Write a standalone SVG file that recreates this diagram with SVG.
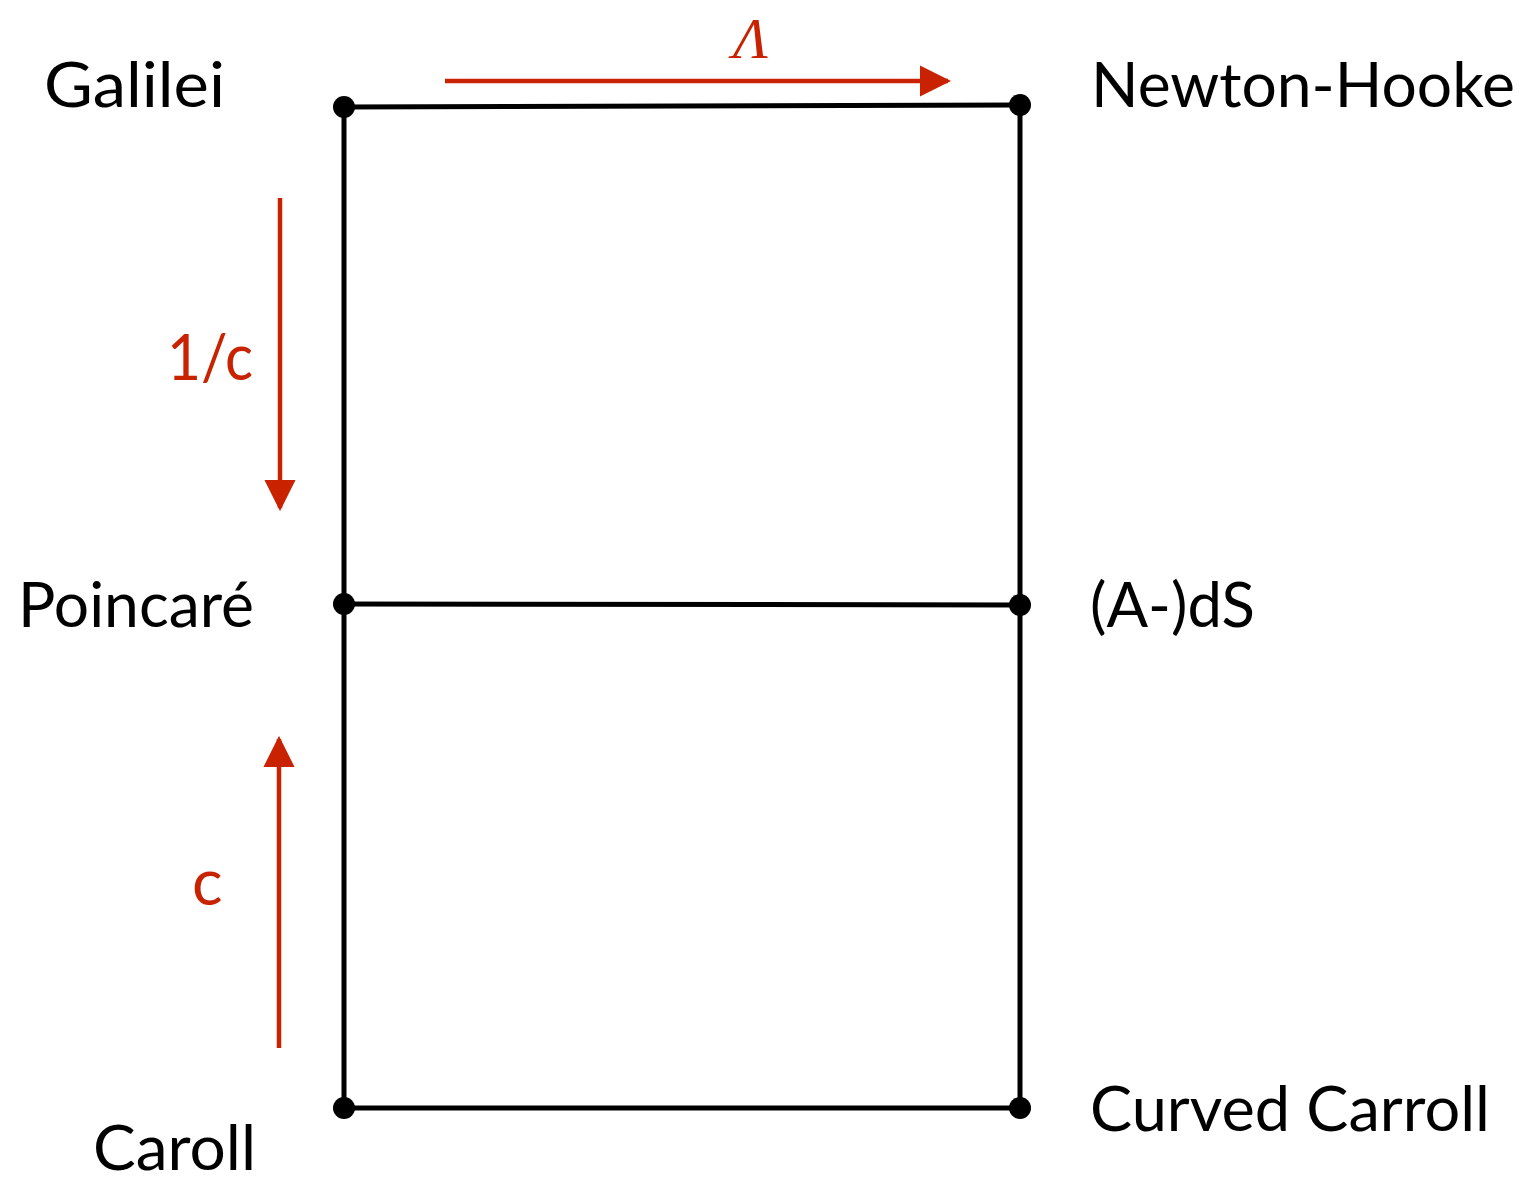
<svg xmlns="http://www.w3.org/2000/svg" width="1525" height="1182" viewBox="0 0 1525 1182">
<style>
.lbl{font-family:Lato,"Open Sans","Liberation Sans",sans-serif;font-size:62px;fill:#000}
.red{font-family:Lato,"Open Sans","Liberation Sans",sans-serif;font-size:64px;fill:#c82200}
.lam{font-family:"Liberation Serif",serif;font-style:italic;font-size:58px;fill:#c82200}
.edge{stroke:#000;stroke-width:5;fill:none}
.rarr{stroke:#c82200;stroke-width:4.5;fill:none}
.dot{fill:#000}
</style>
<defs>
<marker id="ah" viewBox="0 0 10 10" refX="9" refY="5" markerWidth="7" markerHeight="9" markerUnits="strokeWidth" orient="auto">
<path d="M0,0 L10,5 L0,10 Z" fill="#c82200"/>
</marker>
</defs>
<rect width="1525" height="1182" fill="#fff"/>
<g id="connectors">
<line class="edge" x1="344" y1="107" x2="1020" y2="105"/>
<line class="edge" x1="344" y1="604" x2="1020" y2="605"/>
<line class="edge" x1="344" y1="1108" x2="1020" y2="1108"/>
<line class="edge" x1="344" y1="107" x2="344" y2="1108"/>
<line class="edge" x1="1020" y1="105" x2="1020" y2="1108"/>
</g>
<g id="arrows">
<line class="rarr" x1="445" y1="81" x2="948" y2="81" marker-end="url(#ah)"/>
<line class="rarr" x1="280" y1="198" x2="280" y2="508" marker-end="url(#ah)"/>
<line class="rarr" x1="279" y1="1048" x2="279" y2="739" marker-end="url(#ah)"/>
<text class="lam" x="733" y="58">Λ</text>
<text class="red" x="167" y="380" textLength="86" lengthAdjust="spacingAndGlyphs">1/c</text>
<text class="red" x="192" y="905">c</text>
</g>
<g id="galilei"><circle class="dot" cx="344" cy="107" r="11"/><text class="lbl" x="44" y="107" textLength="181" lengthAdjust="spacingAndGlyphs">Galilei</text></g>
<g id="newton-hooke"><circle class="dot" cx="1020" cy="105" r="11"/><text class="lbl" x="1091" y="107" textLength="424" lengthAdjust="spacingAndGlyphs">Newton-Hooke</text></g>
<g id="poincare"><circle class="dot" cx="344" cy="604" r="11"/><text class="lbl" x="18" y="627" textLength="236" lengthAdjust="spacingAndGlyphs">Poincaré</text></g>
<g id="ads"><circle class="dot" cx="1020" cy="605" r="11"/><text class="lbl" x="1090" y="627" textLength="165" lengthAdjust="spacingAndGlyphs">(A-)dS</text></g>
<g id="caroll"><circle class="dot" cx="344" cy="1108" r="11"/><text class="lbl" x="93" y="1170" textLength="163" lengthAdjust="spacingAndGlyphs">Caroll</text></g>
<g id="curved-carroll"><circle class="dot" cx="1020" cy="1108" r="11"/><text class="lbl" x="1090" y="1131" textLength="400" lengthAdjust="spacingAndGlyphs">Curved Carroll</text></g>
</svg>
